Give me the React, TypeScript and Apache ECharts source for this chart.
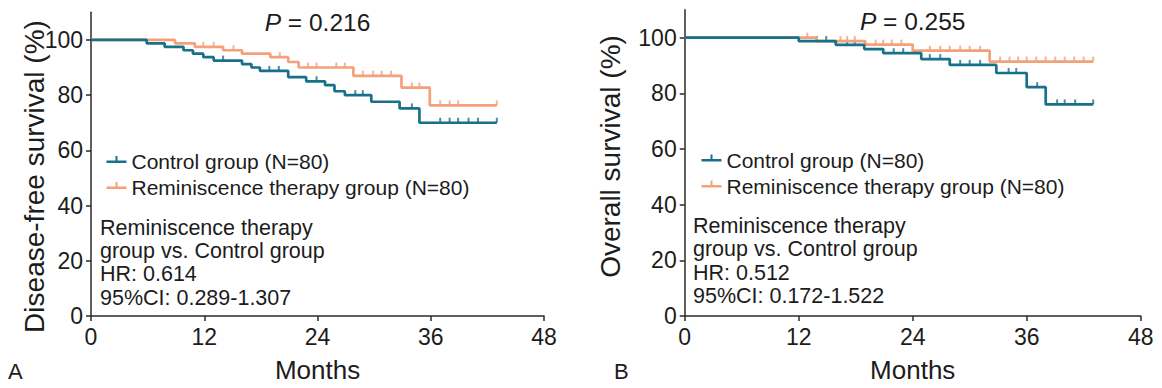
import React, { useEffect, useRef } from "react";
import * as echarts from "echarts";

const FONT = "'Liberation Sans', Arial, Helvetica, sans-serif";
const TEAL = "#18718a";
const ORANGE = "#f4a07a";
const TEXT = "#1c1c1c";

const CTRL = "Control group (N=80)";
const RT = "Reminiscence therapy group (N=80)";

const xTicks = [0, 12, 24, 36, 48];
const yTicks = [0, 20, 40, 60, 80, 100];

// Panel A: disease-free survival
const dfsControlTimes = [0, 5.9, 7.8, 9.8, 10.8, 11.9, 13, 16, 17, 17.9, 20.9, 22.8, 24.8, 25.8, 26.9, 29.7, 32.7, 34.8, 43];
const dfsControlSurv = [100, 98.75, 97.5, 96.25, 95, 93.75, 92.5, 91.25, 90, 88.75, 86.5, 85, 83.6, 81.4, 80, 77.6, 75.2, 70, 70];
const dfsControlCensor = [14, 18.9, 19.9, 23.9, 28, 28.8, 34, 37, 38, 38.9, 40, 41, 43];

const dfsRtTimes = [0, 8.9, 11, 14, 16, 19, 20.9, 22, 27.8, 32.9, 35.9, 43];
const dfsRtSurv = [100, 98.75, 97.5, 96.25, 95, 93.75, 92, 90, 87, 82.75, 76.3, 76.3];
const dfsRtCensor = [11.9, 13, 15.1, 20, 23, 23.9, 26, 26.9, 28.8, 29.9, 30.8, 31.8, 34, 34.8, 37, 38, 38.9, 43];

// Panel B: overall survival
const osControlTimes = [0, 12, 15.9, 18.9, 20.9, 24.9, 27.9, 32.8, 36, 38, 43];
const osControlSurv = [100, 98.75, 97.4, 95.9, 94.4, 92.3, 90.2, 87.3, 82.2, 76, 76];
const osControlCensor = [13.9, 14.9, 17.1, 17.9, 22, 23, 25.8, 26.9, 29, 30, 31.1, 34.1, 34.9, 37.1, 39.2, 40, 41.1, 43];

const osRtTimes = [0, 13.9, 19, 24, 32.1, 43];
const osRtSurv = [100, 98.75, 97.5, 95.3, 91.4, 91.4];
const osRtCensor = [12.9, 16.4, 17.1, 17.9, 20.1, 20.9, 21.8, 22.8, 25.8, 26.9, 27.9, 29, 30, 31.1, 33.2, 34.2, 35.1, 36, 37, 38, 39, 40, 41, 42, 43];

function survAt(times: number[], surv: number[], t: number) {
  let v = surv[0];
  for (let i = 0; i < times.length; i++) if (times[i] <= t) v = surv[i];
  return v;
}

const LEGEND_ICON =
  "path://M0,4.5 L20,4.5 L20,7 L0,7 Z M9,0 L11,0 L11,4.5 L9,4.5 Z M10,11 L10.001,11 L10,11.001 Z";

function kmSeries(idx: number, name: string, color: string, times: number[], surv: number[], censor: number[]) {
  return [
    {
      name,
      type: "line",
      xAxisIndex: idx,
      yAxisIndex: idx,
      step: "end",
      showSymbol: false,
      symbol: "none",
      lineStyle: { color, width: 2.7 },
      itemStyle: { color },
      data: times.map((t, i) => [t, surv[i]]),
    },
    {
      name: name + " censored",
      type: "scatter",
      xAxisIndex: idx,
      yAxisIndex: idx,
      symbol: "rect",
      symbolSize: [2, 5],
      symbolOffset: [0, -2.5],
      itemStyle: { color },
      data: censor.map((t) => [t, survAt(times, surv, t)]),
    },
  ];
}

function axes(idx: number) {
  const lineStyle = { color: "#2a2a2a", width: 1.5 };
  return {
    x: {
      type: "value",
      gridIndex: idx,
      min: xTicks[0],
      max: xTicks[xTicks.length - 1],
      interval: 12,
      name: "Months",
      nameLocation: "middle",
      nameGap: 41,
      nameTextStyle: { fontSize: 26, fontFamily: FONT, color: TEXT, lineHeight: 26 },
      axisLine: { show: true, lineStyle },
      axisTick: { show: true, length: 5, lineStyle },
      axisLabel: { fontSize: 23, fontFamily: FONT, color: TEXT, margin: 9 },
      splitLine: { show: false },
    },
    y: {
      type: "value",
      gridIndex: idx,
      min: 0,
      max: 110,
      axisLine: { show: true, lineStyle },
      axisTick: { show: true, length: 5, lineStyle, customValues: yTicks },
      axisLabel: { fontSize: 23, fontFamily: FONT, color: TEXT, margin: 8, customValues: yTicks },
      splitLine: { show: false },
    },
  };
}

function legend(left: number, top: number) {
  return {
    left,
    top,
    orient: "vertical",
    data: [CTRL, RT],
    icon: LEGEND_ICON,
    itemWidth: 20,
    itemHeight: 11,
    itemGap: 5,
    selectedMode: false,
    textStyle: { fontSize: 21, lineHeight: 21, fontFamily: FONT, color: TEXT },
  };
}

function txt(x: number, y: number, text: string, extra: any = {}, rotation = 0) {
  return {
    type: "text",
    x,
    y,
    rotation,
    silent: true,
    style: { text, fontSize: 21.5, fontFamily: FONT, fill: TEXT, ...extra },
  };
}

export default function App() {
  const ref = useRef<HTMLDivElement>(null);

  useEffect(() => {
    document.body.style.margin = "0";
    if (!ref.current) return;
    const chart = echarts.init(ref.current, undefined, { renderer: "svg" });
    const a0 = axes(0);
    const a1 = axes(1);
    const option = {
      animation: false,
      backgroundColor: "#ffffff",
      textStyle: { fontFamily: FONT },
      grid: [
        { left: 91, top: 12.3, width: 453, height: 304.7 },
        { left: 684.7, top: 9.8, width: 456, height: 307.2 },
      ],
      xAxis: [a0.x, a1.x],
      yAxis: [a0.y, a1.y],
      legend: [legend(101.5, 146), legend(696.5, 144.5)],
      series: [
        ...kmSeries(0, RT, ORANGE, dfsRtTimes, dfsRtSurv, dfsRtCensor),
        ...kmSeries(0, CTRL, TEAL, dfsControlTimes, dfsControlSurv, dfsControlCensor),
        ...kmSeries(1, RT, ORANGE, osRtTimes, osRtSurv, osRtCensor),
        ...kmSeries(1, CTRL, TEAL, osControlTimes, osControlSurv, osControlCensor),
      ],
      graphic: [
        txt(34, 176.5, "Disease-free survival (%)", {
          fontSize: 28, textAlign: "center", textVerticalAlign: "middle",
        }, Math.PI / 2),
        txt(610, 156.5, "Overall survival (%)", {
          fontSize: 28, textAlign: "center", textVerticalAlign: "middle",
        }, Math.PI / 2),
        txt(317.5, 22.5, "{i|P} = 0.216", {
          fontSize: 24.5, textAlign: "center", textVerticalAlign: "middle",
          rich: { i: { fontStyle: "italic", fontSize: 24.5, fontFamily: FONT, fill: TEXT } },
        }),
        txt(912.7, 21, "{i|P} = 0.255", {
          fontSize: 24.5, textAlign: "center", textVerticalAlign: "middle",
          rich: { i: { fontStyle: "italic", fontSize: 24.5, fontFamily: FONT, fill: TEXT } },
        }),
        txt(100, 216, "Reminiscence therapy\ngroup vs. Control group\nHR: 0.614\n95%CI: 0.289-1.307", {
          lineHeight: 23.3, textVerticalAlign: "top",
        }),
        txt(693, 214, "Reminiscence therapy\ngroup vs. Control group\nHR: 0.512\n95%CI: 0.172-1.522", {
          lineHeight: 23.5, textVerticalAlign: "top",
        }),
        txt(8, 371.5, "A", { fontSize: 22, textVerticalAlign: "middle" }),
        txt(614, 371, "B", { fontSize: 22, textVerticalAlign: "middle" }),
      ],
    };
    chart.setOption(option as any);
    return () => chart.dispose();
  }, []);

  return <div ref={ref} style={{ width: 1162, height: 388 }} />;
}
